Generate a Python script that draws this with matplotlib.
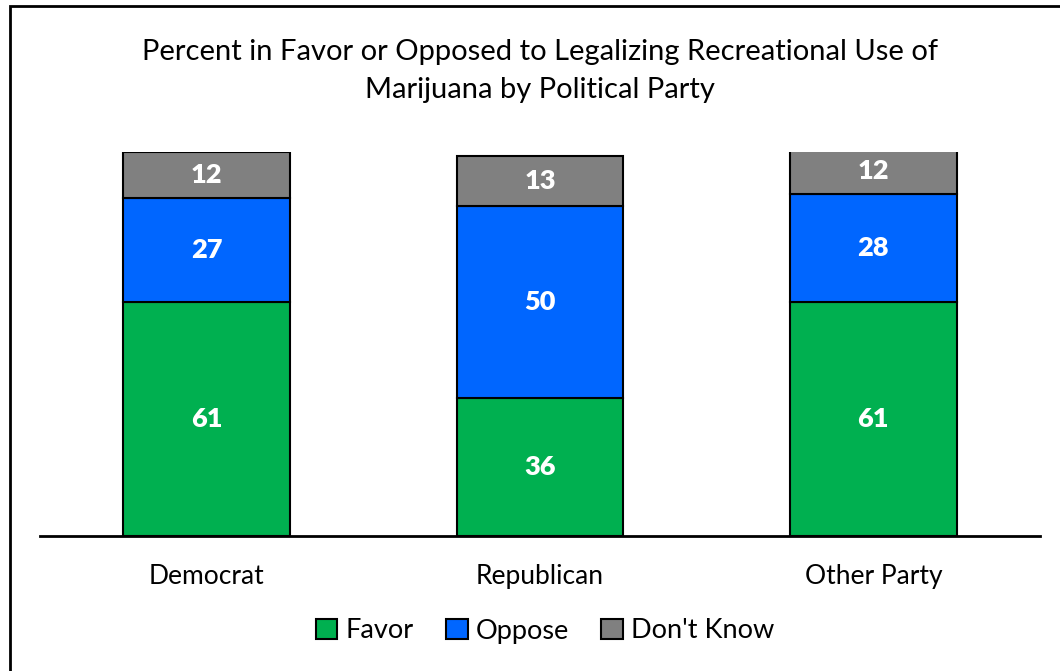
import numpy as np
import matplotlib.pyplot as plt
from matplotlib.patches import Rectangle

parties = ['Democrat', 'Republican', 'Other Party']
favor = [61, 36, 61]
oppose = [27, 50, 28]
dont_know = [12, 13, 12]
series_names = ['Favor', 'Oppose', "Don't Know"]
colors = ['#00B050', '#0066FF', '#808080']

plt.rcParams['font.family'] = ['Lato', 'DejaVu Sans']

fig = plt.figure(figsize=(10.6, 6.71), dpi=100)
ax = fig.add_axes([40 / 1060, 135 / 671, 1000 / 1060, 384 / 671])

x = np.arange(len(parties))
bottom = np.zeros(len(parties))
for vals, name, col in zip([favor, oppose, dont_know], series_names, colors):
    ax.bar(x, vals, width=0.5, bottom=bottom, color=col,
           edgecolor='black', linewidth=1.5, label=name)
    for xi, b, v in zip(x, bottom, vals):
        ax.text(xi, b + v / 2, str(v), ha='center', va='center',
                color='white', fontsize=19.5, fontweight='heavy')
    bottom = bottom + np.array(vals)

ax.set_xlim(-0.5, 2.5)
ax.set_ylim(0, 100)
ax.set_yticks([])
ax.set_xticks(x)
ax.set_xticklabels(parties, fontsize=19)
ax.tick_params(axis='x', length=0, pad=20)
for s in ['top', 'right', 'left']:
    ax.spines[s].set_visible(False)
ax.spines['bottom'].set_linewidth(2)

fig.text(540 / 1060, 1 - 71 / 671,
         'Percent in Favor or Opposed to Legalizing Recreational Use of\nMarijuana by Political Party',
         ha='center', va='center', fontsize=21, linespacing=1.55)

leg = fig.legend(loc='center', bbox_to_anchor=(545 / 1060, 1 - 631 / 671),
                 ncol=3, frameon=False, fontsize=19.5, handlelength=0.8,
                 handleheight=0.8, handletextpad=0.3, columnspacing=1.2)
for h in leg.legend_handles:
    h.set_linewidth(1.5)

# outer chart border
fig.patches.append(Rectangle((10 / 1060, -0.1), 1.2, 1 - 6 / 671 + 0.1,
                             transform=fig.transFigure, fill=False,
                             edgecolor='black', linewidth=2))

fig.savefig('out.png', dpi=100)
